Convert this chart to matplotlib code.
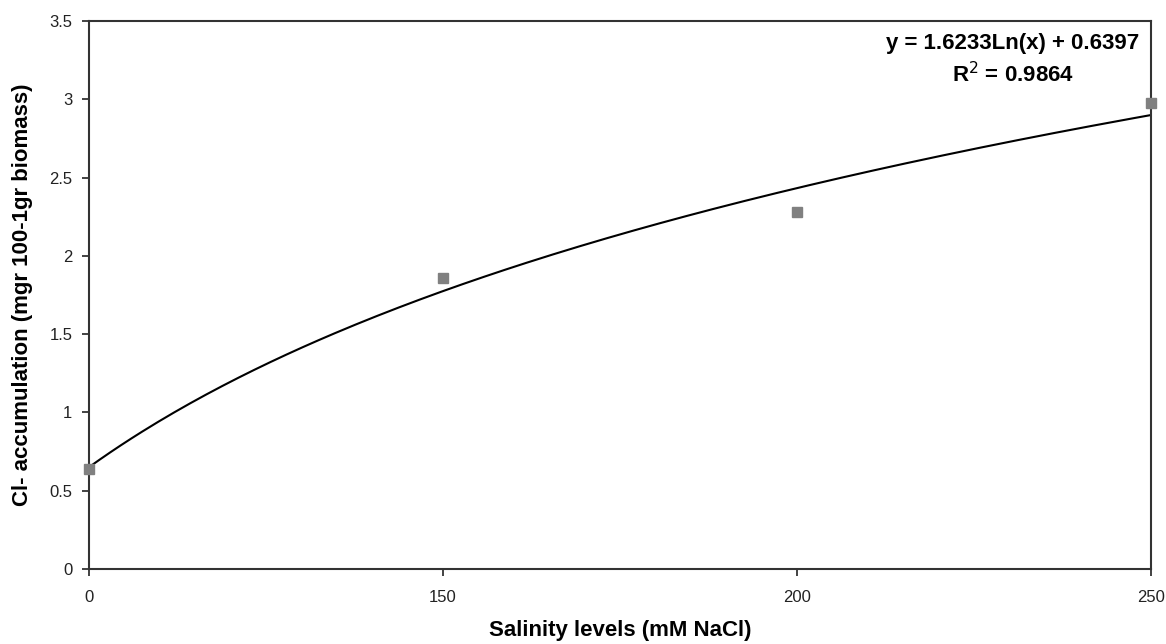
import numpy as np
import matplotlib.pyplot as plt

plt.rcParams['font.family'] = ['Liberation Sans', 'DejaVu Sans']

# data
salinity = ['0', '150', '200', '250']
cl_accum = [0.64, 1.86, 2.28, 2.98]

idx = np.arange(len(salinity))

# log trendline on category number (1..n), like Excel does
coef = np.polyfit(np.log(idx + 1), cl_accum, 1)
xs = np.linspace(0, len(salinity) - 1, 200)
fit = coef[0] * np.log(xs + 1) + coef[1]

fig = plt.figure(figsize=(11.66, 6.44), dpi=100)
ax = fig.add_axes([0.0763, 0.1165, 0.9107, 0.8505])

ax.plot(xs, fit, color='black', lw=1.5, zorder=2)
ax.plot(idx, cl_accum, ls='none', marker='s', ms=7, color='#808080', zorder=3, clip_on=False)

ax.set_xlim(0, len(salinity) - 1)
ax.set_ylim(0, 3.5)
ax.set_xticks(idx)
ax.set_xticklabels(salinity)
ax.set_yticks(np.arange(0, 3.51, 0.5))
ax.set_yticklabels(['0', '0.5', '1', '1.5', '2', '2.5', '3', '3.5'])
ax.tick_params(direction='out', length=5, width=1.2, labelsize=12, colors='#222222')
ax.tick_params(axis='x', pad=10)
ax.tick_params(axis='y', pad=7)

for s in ax.spines.values():
    s.set_linewidth(1.5)
    s.set_color('#333333')

ax.set_xlabel('Salinity levels (mM NaCl)', fontsize=16, fontweight='bold', labelpad=11)
ax.set_ylabel('Cl- accumulation (mgr 100-1gr biomass)', fontsize=16, fontweight='bold', labelpad=12)

ax.text(0.870, 0.960, 'y = 1.6233Ln(x) + 0.6397', transform=ax.transAxes,
        ha='center', va='center', fontsize=16, fontweight='bold')
ax.text(0.870, 0.903, 'R$^{2}$ = 0.9864', transform=ax.transAxes,
        ha='center', va='center', fontsize=16, fontweight='bold')

fig.savefig('out.png', dpi=100)
